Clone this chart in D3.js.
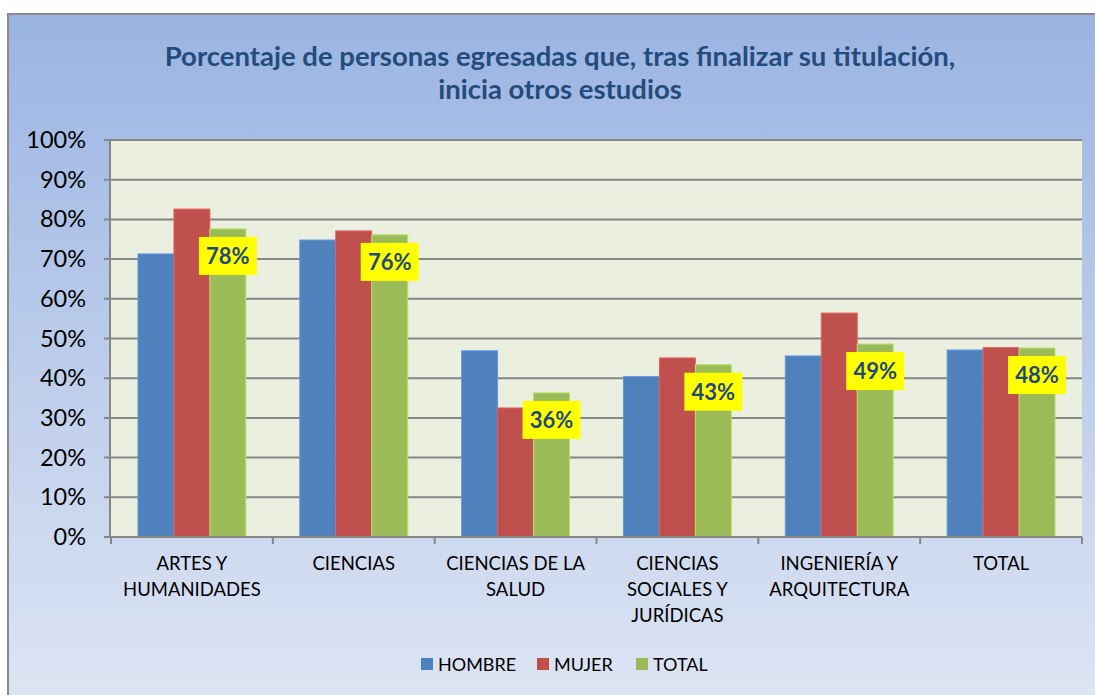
<!DOCTYPE html>
<html>
<head>
<meta charset="utf-8">
<script src="https://cdn.jsdelivr.net/npm/d3@7"></script>
<style>
  html, body { margin: 0; padding: 0; background: #fff; }
  svg { display: block; font-family: Lato, "Open Sans", sans-serif; }
</style>
</head>
<body>
<div id="chart"></div>
<script>
let categories = [
    ['ARTES Y', 'HUMANIDADES'],
    ['CIENCIAS'],
    ['CIENCIAS DE LA', 'SALUD'],
    ['CIENCIAS', 'SOCIALES Y', 'JURÍDICAS'],
    ['INGENIERÍA Y', 'ARQUITECTURA'],
    ['TOTAL']
]
let series = ['HOMBRE', 'MUJER', 'TOTAL']
let hombre = [71.3, 74.8, 46.9, 40.4, 45.6, 47.1]
let mujer = [82.6, 77.1, 32.5, 45.1, 56.4, 47.7]
let total = [77.6, 76.1, 36.3, 43.4, 48.6, 47.6]
let yTicks = [0, 10, 20, 30, 40, 50, 60, 70, 80, 90, 100]
let colors = {'HOMBRE': '#4f81bd', 'MUJER': '#c0504d', 'TOTAL': '#9bbb59'}

let width = 1095, height = 695

let svg = d3.select('#chart').append('svg')
    .attr('width', width)
    .attr('height', height)

let defs = svg.append('defs')

let bgGrad = defs.append('linearGradient')
    .attr('id', 'bg-grad')
    .attr('x1', '0%').attr('y1', '0%')
    .attr('x2', '0%').attr('y2', '100%')

bgGrad.append('stop').attr('offset', '0%').attr('stop-color', '#9ab4e2')
bgGrad.append('stop').attr('offset', '100%').attr('stop-color', '#dfe6f4')

// outer chart area
svg.append('rect')
    .attr('x', 8)
    .attr('y', 14)
    .attr('width', width + 10)
    .attr('height', height + 10)
    .attr('fill', 'url(#bg-grad)')
    .attr('stroke', '#8a8a8a')
    .attr('stroke-width', 2)

// title
let title = svg.append('text')
    .attr('x', 560)
    .attr('text-anchor', 'middle')
    .attr('font-size', 27.5)
    .attr('font-weight', 'bold')
    .attr('fill', '#244b7e')

title.append('tspan').attr('x', 560).attr('y', 66)
    .text('Porcentaje de personas egresadas que, tras finalizar su titulación,')
title.append('tspan').attr('x', 560).attr('y', 99)
    .text('inicia otros estudios')

let margin = {left: 111, right: 1082, top: 140, bottom: 537}

let x0 = d3.scaleBand()
    .domain(d3.range(categories.length))
    .range([margin.left, margin.right])

let x1 = d3.scaleBand()
    .domain(series)
    .range([0, x0.bandwidth()])
    .paddingOuter(0.75)
    .paddingInner(0)

let y = d3.scaleLinear()
    .domain([0, 100])
    .range([margin.bottom, margin.top])

// plot area
svg.append('rect')
    .attr('x', margin.left)
    .attr('y', margin.top)
    .attr('width', margin.right - margin.left)
    .attr('height', margin.bottom - margin.top)
    .attr('fill', '#ebefdf')

// gridlines
svg.append('g')
    .selectAll('line')
    .data(yTicks.slice(1))
    .enter()
    .append('line')
    .attr('x1', margin.left - 7)
    .attr('x2', margin.right)
    .attr('y1', d => y(d))
    .attr('y2', d => y(d))
    .attr('stroke', '#868686')
    .attr('stroke-width', 2)

// y tick labels
svg.append('g')
    .selectAll('text')
    .data(yTicks)
    .enter()
    .append('text')
    .attr('x', 86)
    .attr('y', d => y(d) + 8)
    .attr('text-anchor', 'end')
    .attr('font-size', 23.5)
    .attr('fill', '#000')
    .text(d => d + '%')

// bars
let rows = categories.map(function(c, i){
    return {i: i, values: [
        {key: 'HOMBRE', value: hombre[i]},
        {key: 'MUJER', value: mujer[i]},
        {key: 'TOTAL', value: total[i]}
    ]}
})

let groups = svg.append('g')
    .selectAll('g')
    .data(rows)
    .enter()
    .append('g')
    .attr('transform', d => 'translate(' + x0(d.i) + ',0)')

groups.selectAll('rect')
    .data(d => d.values)
    .enter()
    .append('rect')
    .attr('x', d => x1(d.key))
    .attr('y', d => y(d.value))
    .attr('width', x1.bandwidth())
    .attr('height', d => y(0) - y(d.value))
    .attr('fill', d => colors[d.key])
    .attr('stroke', d => d3.color(colors[d.key]).brighter(0.5))
    .attr('stroke-width', 1)

// axes lines
svg.append('line')
    .attr('x1', margin.left - 1).attr('x2', margin.left - 1)
    .attr('y1', margin.top).attr('y2', margin.bottom)
    .attr('stroke', '#868686').attr('stroke-width', 2)

svg.append('line')
    .attr('x1', margin.left - 7).attr('x2', margin.right)
    .attr('y1', margin.bottom).attr('y2', margin.bottom)
    .attr('stroke', '#868686').attr('stroke-width', 2)

svg.append('g')
    .selectAll('line')
    .data(d3.range(categories.length + 1))
    .enter()
    .append('line')
    .attr('x1', d => margin.left + d * x0.bandwidth())
    .attr('x2', d => margin.left + d * x0.bandwidth())
    .attr('y1', margin.bottom)
    .attr('y2', margin.bottom + 7)
    .attr('stroke', '#868686').attr('stroke-width', 2)

// data labels for TOTAL
let labels = svg.append('g')
    .selectAll('g')
    .data(total)
    .enter()
    .append('g')
    .attr('transform', function(d, i){
        let cx = x0(i) + x1('TOTAL') + x1.bandwidth() / 2
        return 'translate(' + cx + ',' + (y(d) + 27) + ')'
    })

labels.append('rect')
    .attr('x', -29)
    .attr('y', -19)
    .attr('width', 58)
    .attr('height', 38)
    .attr('fill', '#ffff00')

labels.append('text')
    .attr('text-anchor', 'middle')
    .attr('y', 8)
    .attr('font-size', 22)
    .attr('font-weight', 'bold')
    .attr('fill', '#1f497d')
    .text(d => Math.round(d) + '%')

// category labels
let catLabels = svg.append('g')
    .selectAll('text')
    .data(categories)
    .enter()
    .append('text')
    .attr('text-anchor', 'middle')
    .attr('font-size', 18.5)
    .attr('fill', '#000')

catLabels.selectAll('tspan')
    .data((d, i) => d.map(t => ({t: t, i: i})))
    .enter()
    .append('tspan')
    .attr('x', d => x0(d.i) + x0.bandwidth() / 2)
    .attr('y', (d, j) => 570 + j * 26)
    .text(d => d.t)

// legend
let legendX = [421, 537, 636]
let legend = svg.append('g')
    .selectAll('g')
    .data(series)
    .enter()
    .append('g')
    .attr('transform', (d, i) => 'translate(' + legendX[i] + ',658)')

legend.append('rect')
    .attr('width', 12)
    .attr('height', 12)
    .attr('fill', d => colors[d])

legend.append('text')
    .attr('x', 17)
    .attr('y', 13)
    .attr('font-size', 18)
    .attr('fill', '#000')
    .text(d => d)
</script>
</body>
</html>
